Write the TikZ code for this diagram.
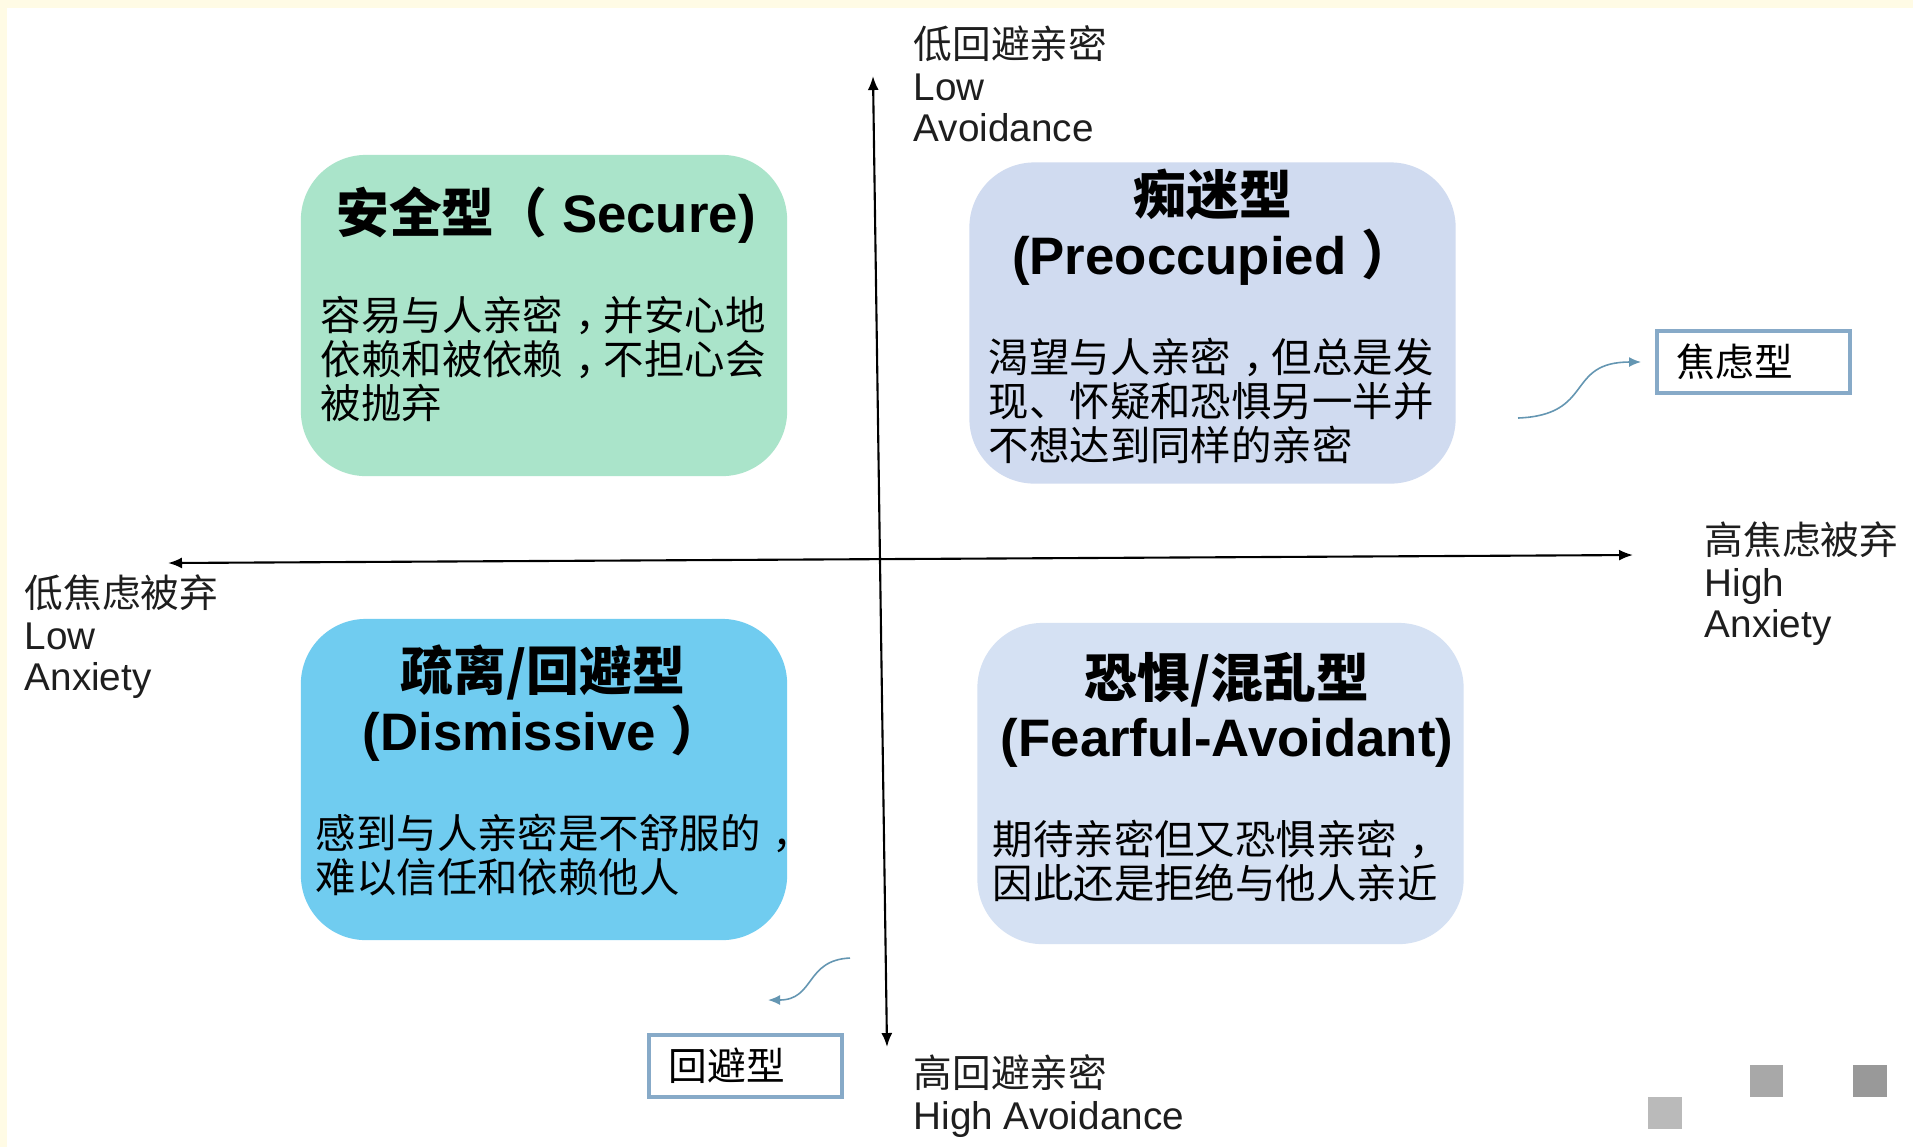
\documentclass[tikz,border=0pt]{standalone}
\usepackage{fontspec}
\setmainfont{Liberation Sans}
\newfontfamily\cjk{Noto Sans CJK SC}
\newcommand\zhcomma{\kern0.3em，\kern-0.3em}
\usepackage{tikz}
\usetikzlibrary{arrows.meta, positioning}

\definecolor{frameyellow}{RGB}{255,251,229}
\definecolor{securegreen}{RGB}{170,228,202}
\definecolor{preoccblue}{RGB}{208,219,240}
\definecolor{dismissblue}{RGB}{112,204,240}
\definecolor{fearblue}{RGB}{213,225,243}
\definecolor{tagborder}{RGB}{135,170,200}
\definecolor{pointercol}{RGB}{100,150,178}
\definecolor{inkgray}{RGB}{30,30,30}

\begin{document}
\begin{tikzpicture}[x=0.01cm, y=-0.01cm,
    quad/.style={rounded corners=0.65cm, minimum width=4.86cm, minimum height=3.21cm, inner sep=0pt},
    quadtitle/.style={font=\fontsize{15}{17}\selectfont\bfseries, align=center, inner sep=0pt},
    body/.style={font=\cjk\fontsize{11.5}{12.5}\selectfont, align=left, anchor=west, inner sep=0pt},
    axislabel/.style={font=\fontsize{11}{11.8}\selectfont, text=inkgray, align=left, anchor=west, inner sep=0pt},
    axisline/.style={line width=0.6pt, {Latex[length=1.4mm,width=1.1mm]}-{Latex[length=1.4mm,width=1.1mm]}},
    typetag/.style={draw=tagborder, line width=1.1pt, fill=white, minimum height=0.62cm, text width=1.53cm, inner xsep=0.2cm, align=left, font=\cjk\fontsize{11}{12}\selectfont},
    pointer/.style={pointercol, line width=0.45pt, -{Latex[length=1.2mm,width=1mm]}}
  ]
  \useasboundingbox (0,0) rectangle (1913,1147);

  % -- 1. PAGE FRAME --
  \fill[frameyellow] (0,0) rectangle (1913,1147);
  \fill[white] (7,8) rectangle (1913,1147);

  % -- 2. AXES --
  \coordinate (avTop) at (873,76);
  \coordinate (avBot) at (887,1047);
  \coordinate (anxL) at (168,563);
  \coordinate (anxR) at (1633,555);
  \draw[axisline] (avTop) -- (avBot);
  \draw[axisline] (anxL) -- (anxR);

  \node[axislabel] (lowAv) at (913,84) {{\cjk 低回避亲密}\\Low\\Avoidance};
  \node[axislabel] (lowAnx) at (24,637) {{\cjk 低焦虑被弃}\\Low\\Anxiety};
  \node[axislabel] (highAnx) at (1704,584) {{\cjk 高焦虑被弃}\\High\\Anxiety};
  \node[axislabel] (highAv) at (913,1096) {{\cjk 高回避亲密}\\High Avoidance};

  % -- 3. THE FOUR QUADRANTS --
  % Secure (top left)
  \node[quad, fill=securegreen] (secure) at (544,315.5) {};
  \node[quadtitle] (secureT) at (546,215) {{\cjk 安全型（} Secure)};
  \node[body] (secureB) at (320,359) {容易与人亲密\zhcomma 并安心地\\依赖和被依赖\zhcomma 不担心会\\被抛弃};

  % Preoccupied (top right)
  \node[quad, fill=preoccblue] (preocc) at (1212.5,323) {};
  \node[quadtitle] (preoccT) at (1213,227) {{\cjk 痴迷型}\\(Preoccupied {\cjk ）}};
  \node[body] (preoccB) at (988,401) {渴望与人亲密\zhcomma 但总是发\\现、怀疑和恐惧另一半并\\不想达到同样的亲密};

  % Dismissive (bottom left)
  \node[quad, fill=dismissblue] (dismiss) at (544,779.5) {};
  \node[quadtitle] (dismissT) at (543,703) {{\cjk 疏离/回避型}\\(Dismissive {\cjk ）}};
  \node[body] (dismissB) at (315,855) {感到与人亲密是不舒服的\zhcomma\\难以信任和依赖他人};

  % Fearful-avoidant (bottom right)
  \node[quad, fill=fearblue] (fear) at (1220.5,783.5) {};
  \node[quadtitle] (fearT) at (1227,710) {{\cjk 恐惧/混乱型}\\(Fearful-Avoidant)};
  \node[body] (fearB) at (992,861) {期待亲密但又恐惧亲密\zhcomma\\因此还是拒绝与他人亲近};

  % -- 4. TYPE TAGS WITH POINTERS --
  \node[typetag] (anxTag) at (1753.5,362) {焦虑型};
  \coordinate (anxFrom) at (1518,418);
  \draw[pointer, shorten >=1.4mm] (anxFrom) .. controls (1595,415) and (1565,362) .. (anxTag.west);

  \node[typetag] (avTag) at (745.5,1066) {回避型};
  \coordinate (avFrom) at (850,958);
  \coordinate (avTo) at (768,1000);
  \draw[pointer] (avFrom) .. controls (805,960) and (815,1000) .. (avTo);

  % -- 5. CORNER MARKS --
  \fill[black!27] (1648,1097) rectangle (1682,1129);
  \fill[black!34] (1750,1065) rectangle (1783,1097);
  \fill[black!40] (1853,1065) rectangle (1887,1097);
\end{tikzpicture}
\end{document}
